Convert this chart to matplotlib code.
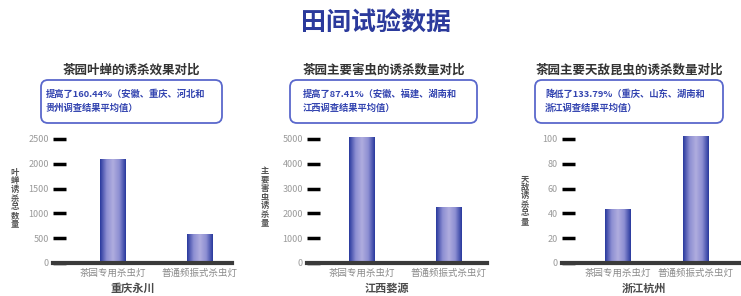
import matplotlib
matplotlib.use("Agg")
import matplotlib.pyplot as plt
import numpy as np
from matplotlib.patches import FancyBboxPatch
from matplotlib.colors import LinearSegmentedColormap

plt.rcParams['font.family'] = ['Noto Sans CJK SC', 'DejaVu Sans']

# dados
titulo_geral = "田间试验数据"
categorias = ["茶园专用杀虫灯", "普通频振式杀虫灯"]

titulos = ["茶园叶蝉的诱杀效果对比",
           "茶园主要害虫的诱杀数量对比",
           "茶园主要天敌昆虫的诱杀数量对比"]
notas = [["提高了160.44%（安徽、重庆、河北和", "贵州调查结果平均值）"],
         ["提高了87.41%（安徽、福建、湖南和", "江西调查结果平均值）"],
         ["降低了133.79%（重庆、山东、湖南和", "浙江调查结果平均值）"]]
locais = ["重庆永川", "江西婺源", "浙江杭州"]
ylabels = ["叶蝉诱杀总数量", "主要害虫诱杀量", "天敌诱杀总量"]

valores_yongchuan = [2080, 570]
valores_wuyuan = [5080, 2220]
valores_hangzhou = [43.5, 102]
valores = [valores_yongchuan, valores_wuyuan, valores_hangzhou]

yticks = [[0, 500, 1000, 1500, 2000, 2500],
          [0, 1000, 2000, 3000, 4000, 5000],
          [0, 20, 40, 60, 80, 100]]

# layout em pixels (figura 741x296)
W, H = 741, 296
eixo_px = [(53, 232), (307, 487), (562, 741)]   # esquerda, direita
centros_px = [(113, 199.5), (361.5, 448.5), (618, 695.5)]
topo_px, base_px = 130, 263
y_ref_px = 139   # posicao do maior tick
caixas = [(41, 222), (290, 477), (535, 723)]
recuo_texto = [5, 13, 10]
ylabel_x = [15, 265, 525]
ylabel_y = [198, 197, 200]
xlabel_x = [133, 387, 644]

azul_titulo = "#2b3a9c"
azul_caixa = "#5a68cc"
azul_texto = "#3344b0"
cmap_barra = LinearSegmentedColormap.from_list(
    "barra", ["#2a3a9e", "#8c8ed2", "#b0addf", "#8c8ed2", "#2a3a9e"])

fig = plt.figure(figsize=(W / 100, H / 100), dpi=100)

# camada de fundo em pixels para textos e caixas
fundo = fig.add_axes([0, 0, 1, 1])
fundo.set_xlim(0, W)
fundo.set_ylim(H, 0)
fundo.axis("off")

fundo.text(376, 24, titulo_geral, ha="center", va="center",
           fontsize=18, fontweight="bold", color=azul_titulo)

for i in range(3):
    esq, dir_ = eixo_px[i]
    c0, c1 = centros_px[i]
    passo = c1 - c0
    xmin = -(c0 - esq) / passo
    xmax = (dir_ - c0) / passo
    largura = 26 / passo

    ymax_tick = yticks[i][-1]
    ytop = ymax_tick * (base_px - topo_px) / (base_px - y_ref_px)

    ax = fig.add_axes([esq / W, 1 - base_px / H, (dir_ - esq) / W,
                       (base_px - topo_px) / H])
    ax.patch.set_alpha(0)

    barras = ax.bar([0, 1], valores[i], width=largura, color="none",
                    edgecolor="none")
    # gradiente horizontal dentro de cada barra
    grad = np.linspace(0, 1, 64).reshape(1, -1)
    for b in barras:
        x0, y0 = b.get_x(), b.get_y()
        ax.imshow(grad, cmap=cmap_barra, aspect="auto",
                  extent=[x0, x0 + b.get_width(), y0, y0 + b.get_height()],
                  zorder=2)
    ax.set_xlim(xmin, xmax)
    ax.set_ylim(0, ytop)

    for s in ["top", "right", "left"]:
        ax.spines[s].set_visible(False)
    ax.spines["bottom"].set_linewidth(3)
    ax.spines["bottom"].set_color("#3a3a3a")
    ax.spines["bottom"].set_zorder(3)

    ax.set_yticks(yticks[i])
    ax.set_yticklabels([str(v) for v in yticks[i]])
    ax.tick_params(axis="y", direction="in", length=9, width=2.5,
                   color="black", labelsize=6.5, labelcolor="#9a9a9a", pad=3)
    ax.set_xticks([0, 1])
    ax.set_xticklabels(categorias)
    ax.tick_params(axis="x", length=0, labelsize=6.8, labelcolor="#8a8a8a",
                   pad=4)

    # nome do local embaixo
    fundo.text(xlabel_x[i], 288, locais[i], ha="center", va="center",
               fontsize=8, fontweight="bold", color="#4a4a4a")

    # titulo do painel e caixa de nota
    bx0, bx1 = caixas[i]
    fundo.text((bx0 + bx1) / 2, 70, titulos[i], ha="center", va="center",
               fontsize=9, fontweight="bold", color="#333333")
    caixa = FancyBboxPatch((bx0, 80), bx1 - bx0, 43,
                           boxstyle="round,pad=0,rounding_size=7",
                           facecolor="white", edgecolor=azul_caixa,
                           linewidth=1.3)
    fundo.add_patch(caixa)
    fundo.text(bx0 + recuo_texto[i], 94, notas[i][0], ha="left", va="center",
               fontsize=6.7, fontweight="bold", color=azul_texto)
    fundo.text(bx0 + recuo_texto[i], 108, notas[i][1], ha="left", va="center",
               fontsize=6.7, fontweight="bold", color=azul_texto)

    # rotulo vertical do eixo y (caracteres empilhados)
    fundo.text(ylabel_x[i], ylabel_y[i], "\n".join(ylabels[i]), ha="center",
               va="center", fontsize=6, fontweight="bold", color="#555555",
               linespacing=0.95)

fig.savefig("out.png", dpi=100)
